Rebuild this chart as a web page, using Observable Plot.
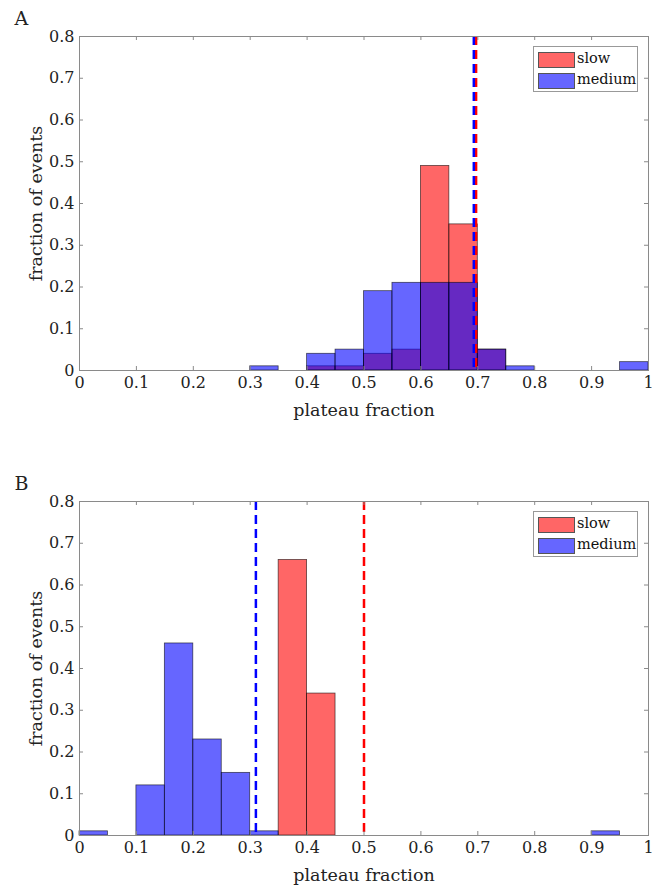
<!DOCTYPE html>
<html>
<head>
<meta charset="utf-8">
<script src="https://cdn.jsdelivr.net/npm/d3@7"></script>
<script src="https://cdn.jsdelivr.net/npm/@observablehq/plot@0.6"></script>
<style>
  html, body { margin: 0; padding: 0; background: #fff; }
  #fig { position: relative; width: 664px; height: 886px; font-family: "DejaVu Serif", serif; }
  .panel { position: absolute; left: 0; width: 664px; height: 443px; }
  .legend { position: absolute; left: 533px; width: 105px; height: 46px; border: 1px solid #999; background: #fff; box-sizing: border-box; }
  .legend .item { position: absolute; left: 4px; height: 15px; }
  .legend .sw { position: absolute; left: 0; top: 0; width: 35px; height: 14px; border: 1px solid #555; }
  .legend .lab { position: absolute; left: 39px; top: -4px; font-size: 14.5px; line-height: 20px; color: #111; white-space: nowrap; }
</style>
</head>
<body>
<div id="fig"></div>
<script>
const FONT = "'DejaVu Serif', serif";

// Histogram bins (width 0.05) on plateau fraction
const binStart = [0, 0.05, 0.1, 0.15, 0.2, 0.25, 0.3, 0.35, 0.4, 0.45, 0.5, 0.55, 0.6, 0.65, 0.7, 0.75, 0.8, 0.85, 0.9, 0.95];
const binEnd   = [0.05, 0.1, 0.15, 0.2, 0.25, 0.3, 0.35, 0.4, 0.45, 0.5, 0.55, 0.6, 0.65, 0.7, 0.75, 0.8, 0.85, 0.9, 0.95, 1];

// Panel A: fraction of events per bin
const slowA   = [0, 0, 0, 0, 0, 0, 0, 0, 0.01, 0.01, 0.04, 0.05, 0.49, 0.35, 0.05, 0, 0, 0, 0, 0];
const mediumA = [0, 0, 0, 0, 0, 0, 0.01, 0, 0.04, 0.05, 0.19, 0.21, 0.21, 0.21, 0.05, 0.01, 0, 0, 0, 0.02];
const meanSlowA = 0.697;
const meanMediumA = 0.693;

// Panel B: fraction of events per bin
const slowB   = [0, 0, 0, 0, 0, 0, 0, 0.66, 0.34, 0, 0, 0, 0, 0, 0, 0, 0, 0, 0, 0];
const mediumB = [0.01, 0, 0.12, 0.46, 0.23, 0.15, 0.01, 0, 0, 0, 0, 0, 0, 0, 0, 0, 0, 0, 0.01, 0];
const meanSlowB = 0.5;
const meanMediumB = 0.31;

const xTicks = [0, 0.1, 0.2, 0.3, 0.4, 0.5, 0.6, 0.7, 0.8, 0.9, 1];
const yTicks = [0, 0.1, 0.2, 0.3, 0.4, 0.5, 0.6, 0.7, 0.8];
const seriesNames = ["slow", "medium"];

const slowFill = "rgb(255,102,102)";
const mediumFill = "rgb(102,102,255)";

function bins(values) {
  return values.map((v, i) => ({x1: binStart[i], x2: binEnd[i], y: v})).filter(d => d.y > 0);
}

function panel(letter, slow, medium, meanSlow, meanMedium, marginTop, marginBottom) {
  const W = 664, H = 443, mL = 79, mR = 16;
  const innerW = W - mL - mR;
  const innerH = H - marginTop - marginBottom;
  const tick = 4;
  const axisColor = "#8a8a8a";
  return Plot.plot({
    width: W, height: H,
    marginLeft: mL, marginRight: mR, marginTop, marginBottom,
    style: {fontFamily: FONT, fontSize: "16px", background: "#fff", color: "#222", overflow: "visible"},
    x: {domain: [0, 1]},
    y: {domain: [0, 0.8]},
    marks: [
      Plot.rectY(bins(slow), {x1: "x1", x2: "x2", y: "y", fill: "red", fillOpacity: 0.6, stroke: "#000", strokeOpacity: 0.65, strokeWidth: 0.8}),
      Plot.rectY(bins(medium), {x1: "x1", x2: "x2", y: "y", fill: "blue", fillOpacity: 0.6, stroke: "#000", strokeOpacity: 0.65, strokeWidth: 0.8}),
      Plot.ruleX([meanSlow], {x: d => d, stroke: "red", strokeWidth: 2.5, strokeDasharray: "9,5"}),
      Plot.ruleX([meanMedium], {x: d => d, stroke: "blue", strokeWidth: 2.5, strokeDasharray: "9,5"}),
      Plot.frame({stroke: axisColor, strokeWidth: 1}),
      // inward ticks on all four sides
      Plot.tickX(xTicks, {x: d => d, stroke: axisColor, insetTop: innerH - tick}),
      Plot.tickX(xTicks, {x: d => d, stroke: axisColor, insetBottom: innerH - tick}),
      Plot.tickY(yTicks, {y: d => d, stroke: axisColor, insetRight: innerW - tick}),
      Plot.tickY(yTicks, {y: d => d, stroke: axisColor, insetLeft: innerW - tick}),
      Plot.axisX({ticks: xTicks, tickSize: 0, tickPadding: 6, tickFormat: d => String(d), label: null, fontSize: 16, fill: "#222"}),
      Plot.axisY({ticks: yTicks, tickSize: 0, tickPadding: 5, tickFormat: d => String(d), label: null, fontSize: 16, fill: "#222"}),
      Plot.text(["plateau fraction"], {frameAnchor: "bottom", lineAnchor: "middle", dy: 40, text: d => d, fontSize: 17.5, fill: "#222"}),
      Plot.text(["fraction of events"], {frameAnchor: "left", textAnchor: "middle", dx: -43, rotate: -90, text: d => d, fontSize: 17.5, fill: "#222"}),
      Plot.text([letter], {frameAnchor: "top-left", lineAnchor: "middle", dx: -65, dy: -18, text: d => d, fontSize: 19, fill: "#222"})
    ]
  });
}

function legend(top) {
  const box = document.createElement("div");
  box.className = "legend";
  box.style.top = top + "px";
  const fills = [slowFill, mediumFill];
  seriesNames.forEach((name, i) => {
    const item = document.createElement("div");
    item.className = "item";
    item.style.top = (5 + i * 20.5) + "px";
    const sw = document.createElement("div");
    sw.className = "sw";
    sw.style.background = fills[i];
    const lab = document.createElement("div");
    lab.className = "lab";
    lab.textContent = name;
    item.appendChild(sw);
    item.appendChild(lab);
    box.appendChild(item);
  });
  return box;
}

const fig = document.getElementById("fig");

const pA = document.createElement("div");
pA.className = "panel";
pA.style.top = "0px";
pA.appendChild(panel("A", slowA, mediumA, meanSlowA, meanMediumA, 36, 73));
fig.appendChild(pA);
fig.appendChild(legend(46));

const pB = document.createElement("div");
pB.className = "panel";
pB.style.top = "443px";
pB.appendChild(panel("B", slowB, mediumB, meanSlowB, meanMediumB, 58, 51));
fig.appendChild(pB);
fig.appendChild(legend(511));
</script>
</body>
</html>
